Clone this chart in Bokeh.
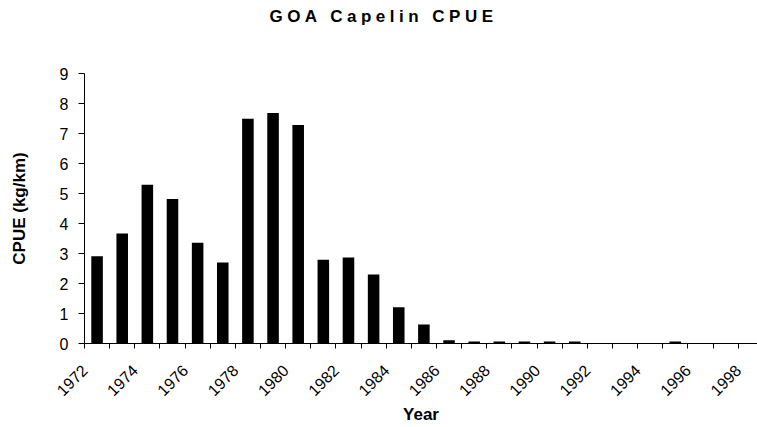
from bokeh.plotting import figure
from bokeh.models import Range1d, FixedTicker, Div
from bokeh.layouts import column
from bokeh.embed import file_html
from bokeh.resources import INLINE
import math

years = list(range(1972, 1999))
cpue = [2.91, 3.67, 5.29, 4.82, 3.36, 2.70, 7.49, 7.68, 7.28, 2.79,
        2.87, 2.30, 1.21, 0.63, 0.11, 0.07, 0.07, 0.07, 0.07, 0.07,
        0.0, 0.0, 0.0, 0.07, 0.0, 0.0, 0.0]
y_ticks = list(range(0, 10))
title_text = "GOA Capelin CPUE"
x_label = "Year"
y_label = "CPUE (kg/km)"

FONT = "Liberation Sans"

xs = [i + 0.5 for i in range(len(years))]

p = figure(width=757, height=389, output_backend="svg", toolbar_location=None,
           x_range=Range1d(0, 26.77), y_range=Range1d(0, 9),
           min_border_left=84, min_border_right=0, min_border_top=35,
           min_border_bottom=84)
p.outline_line_color = None
p.xgrid.grid_line_color = None
p.ygrid.grid_line_color = None
p.background_fill_color = "white"
p.border_fill_color = "white"

p.vbar(x=xs, top=cpue, bottom=0, width=0.46, fill_color="black", line_color=None)

# x axis: tick marks between categories, labels every other year
p.xaxis.ticker = FixedTicker(ticks=list(range(0, len(years) + 1)))
p.xaxis.major_label_overrides = {i: (str(years[i]) if (i < len(years) and i % 2 == 0) else "")
                                 for i in range(0, len(years) + 1)}
p.xaxis.major_label_orientation = math.pi / 4
p.xaxis.major_tick_out = 5
p.xaxis.major_tick_in = 0
p.xaxis.minor_tick_out = 0
p.xaxis.minor_tick_in = 0
p.xaxis.major_label_text_font = FONT
p.xaxis.major_label_text_font_size = "16px"
p.xaxis.major_label_text_color = "black"
p.xaxis.major_label_standoff = 19
p.xaxis.axis_label = x_label
p.xaxis.axis_label_text_font = FONT
p.xaxis.axis_label_text_font_style = "bold"
p.xaxis.axis_label_text_font_size = "17px"
p.xaxis.axis_label_text_color = "black"
p.xaxis.axis_label_standoff = 1

p.yaxis.ticker = FixedTicker(ticks=y_ticks)
p.yaxis.major_tick_out = 6
p.yaxis.major_tick_in = 0
p.yaxis.minor_tick_out = 0
p.yaxis.minor_tick_in = 0
p.yaxis.major_label_text_font = FONT
p.yaxis.major_label_text_font_size = "16px"
p.yaxis.major_label_text_color = "black"
p.yaxis.major_label_standoff = 10
p.yaxis.axis_label = y_label
p.yaxis.axis_label_text_font = FONT
p.yaxis.axis_label_text_font_style = "bold"
p.yaxis.axis_label_text_font_size = "17px"
p.yaxis.axis_label_text_color = "black"
p.yaxis.axis_label_standoff = 28

for ax in (p.xaxis, p.yaxis):
    ax.axis_line_color = "black"
    ax.major_tick_line_color = "black"
    ax.axis_line_width = 1

title = Div(text=title_text, width=757, height=31, margin=(7, 0, 0, 0),
            styles={"font-family": FONT, "font-size": "17px", "font-weight": "bold",
                    "letter-spacing": "4.5px", "text-align": "center", "color": "black",
                    "text-indent": "10px", "line-height": "normal"})

layout = column(title, p, spacing=0)

open("out.html", "w").write(file_html(layout, INLINE))
